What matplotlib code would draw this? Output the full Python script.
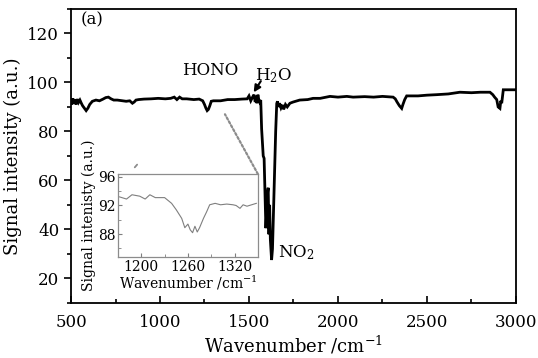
import numpy as np
import matplotlib
matplotlib.use('Agg')
import matplotlib.pyplot as plt
from matplotlib.ticker import MultipleLocator
from matplotlib.patches import ConnectionPatch

plt.rcParams['font.family'] = 'DejaVu Serif'
plt.rcParams['mathtext.fontset'] = 'dejavuserif'

# main spectrum
wn = [500, 505, 510, 515, 520, 528, 535, 542, 550, 558, 565, 575, 585, 595, 605, 620,
      640, 660, 680, 695, 710, 725, 740, 760, 790, 810, 830, 845, 855, 865, 880, 910,
      950, 990, 1030, 1060, 1080, 1095, 1110, 1125, 1150, 1190, 1220, 1240, 1250, 1258,
      1265, 1272, 1280, 1288, 1300, 1340, 1380, 1420, 1460, 1490, 1500, 1510, 1520, 1528,
      1535, 1540, 1545, 1550, 1555, 1560, 1566, 1571, 1580, 1585, 1590, 1595, 1600, 1605,
      1608, 1612, 1616, 1620, 1627, 1632, 1642, 1650, 1656, 1660, 1665, 1672, 1680, 1688,
      1695, 1705, 1715, 1730, 1748, 1785, 1830, 1860, 1900, 1955, 2000, 2050, 2085, 2150,
      2200, 2250, 2310, 2322, 2332, 2345, 2358, 2365, 2375, 2386, 2450, 2500, 2554, 2620,
      2685, 2750, 2800, 2854, 2870, 2880, 2892, 2900, 2910, 2915, 2920, 2929, 2960, 3000]
sig = [93.0, 91.0, 93.5, 91.5, 93.0, 91.0, 93.2, 91.8, 92.8, 91.5, 90.5, 89.5, 88.5, 89.5, 91.0, 92.3,
       92.8, 92.5, 93.2, 93.8, 94.0, 93.3, 92.8, 92.8, 92.5, 92.3, 92.5, 91.5, 92.0, 92.8, 93.0, 93.2,
       93.3, 93.5, 93.3, 93.5, 94.0, 93.0, 94.0, 93.3, 93.3, 93.0, 93.2, 92.5, 91.0, 89.5,
       88.5, 89.0, 90.5, 92.3, 92.5, 92.5, 93.0, 93.0, 93.2, 93.3, 94.5, 92.5, 94.0, 95.0,
       92.0, 94.5, 91.5, 95.0, 93.0, 92.0, 92.8, 81.0, 70.0, 69.0, 54.0, 40.5, 48.0, 55.4,
       57.0, 38.0, 50.0, 36.0, 27.5, 32.0, 59.6, 80.0, 91.4, 92.3, 90.0, 91.5, 89.6, 90.8,
       89.0, 91.0, 90.0, 91.5, 92.0, 92.8, 93.0, 93.5, 93.5, 94.3, 94.0, 94.3, 94.0, 94.2,
       94.0, 94.3, 94.0, 93.3, 92.0, 90.5, 89.4, 91.0, 93.0, 94.5, 94.5, 94.8, 95.0, 95.3,
       96.0, 95.8, 96.0, 96.0, 95.0, 94.0, 93.0, 90.0, 89.4, 92.5, 91.5, 97.0, 97.0, 97.0]

# zoomed HONO band for the inset
wn_in = [1172, 1181, 1188, 1198, 1205, 1211, 1218, 1230, 1239, 1245, 1252, 1256, 1260, 1263,
         1266, 1269, 1272, 1275, 1280, 1284, 1288, 1295, 1302, 1310, 1318, 1322, 1327, 1331,
         1336, 1342, 1348]
sig_in = [93.2, 92.9, 93.5, 93.3, 92.9, 93.5, 93.1, 93.1, 92.3, 91.4, 90.2, 88.9, 89.4, 88.6,
          88.2, 89.1, 88.3, 88.9, 90.2, 91.1, 92.1, 92.3, 92.1, 92.2, 92.1, 92.0, 91.6, 92.1,
          91.9, 92.1, 92.3]

fig = plt.figure(figsize=(5.38, 3.58), dpi=100)
ax = fig.add_axes([0.132, 0.154, 0.827, 0.821])

ax.plot(wn, sig, color='k', lw=2.0, solid_joinstyle='miter')
ax.set_xlim(500, 3000)
ax.set_ylim(10, 130)
ax.xaxis.set_major_locator(MultipleLocator(500))
ax.xaxis.set_minor_locator(MultipleLocator(250))
ax.yaxis.set_major_locator(MultipleLocator(20))
ax.yaxis.set_minor_locator(MultipleLocator(10))
ax.set_yticks([20, 40, 60, 80, 100, 120])
ax.tick_params(axis='x', which='both', direction='in', width=1.2, pad=8)
ax.tick_params(axis='y', which='both', direction='out', width=1.2)
ax.tick_params(which='major', length=5, labelsize=12)
ax.tick_params(which='minor', length=3)
for s in ax.spines.values():
    s.set_linewidth(1.3)
ax.set_xlabel('Wavenumber /cm$^{-1}$', fontsize=13, labelpad=2)
ax.set_ylabel('Signal intensity (a.u.)', fontsize=13, labelpad=4)

ax.text(555, 125.5, '(a)', fontsize=12, va='center', ha='left')
ax.text(1281, 104.7, 'HONO', fontsize=12, va='center', ha='center')
ax.text(1534, 101.0, 'H$_2$O', fontsize=12, va='baseline', ha='left')
ax.annotate('', xy=(1518, 95), xytext=(1575, 101.5),
            arrowprops=dict(arrowstyle='-|>', color='k', lw=1.5, mutation_scale=10))
ax.text(1663, 30.5, 'NO$_2$', fontsize=12, va='center', ha='left')

# inset
axi = fig.add_axes([0.2193, 0.282, 0.260, 0.232])
axi.plot(wn_in, sig_in, color='#7f7f7f', lw=0.8)
axi.set_xlim(1170, 1350)
axi.set_ylim(84.8, 96.4)
axi.set_xticks([1200, 1260, 1320])
axi.xaxis.set_minor_locator(MultipleLocator(30))
axi.set_yticks([88, 92, 96])
axi.yaxis.set_minor_locator(MultipleLocator(2))
axi.tick_params(which='both', direction='in', color='#7f7f7f', labelsize=10, pad=2)
axi.tick_params(which='major', length=3)
axi.tick_params(which='minor', length=2)
for s in axi.spines.values():
    s.set_color('#8c8c8c')
    s.set_linewidth(0.9)
axi.set_xlabel('Wavenumber /cm$^{-1}$', fontsize=10, labelpad=0)
axi.set_ylabel('Signal intenisty (a.u.)', fontsize=10, labelpad=1)

# zoom connector lines
con1 = ConnectionPatch(xyA=(1, 1), coordsA=axi.transAxes, xyB=(1365, 87.0), coordsB=ax.transData,
                       color='#8c8c8c', lw=1.6, linestyle=(0, (1, 1)))
fig.add_artist(con1)
con2 = ConnectionPatch(xyA=(0.12, 1.08), coordsA=axi.transAxes, xyB=(1135, 88.5), coordsB=ax.transData,
                       color='#8c8c8c', lw=1.3, linestyle=(0, (2, 60)))
fig.add_artist(con2)

fig.savefig('out.png', dpi=100)
